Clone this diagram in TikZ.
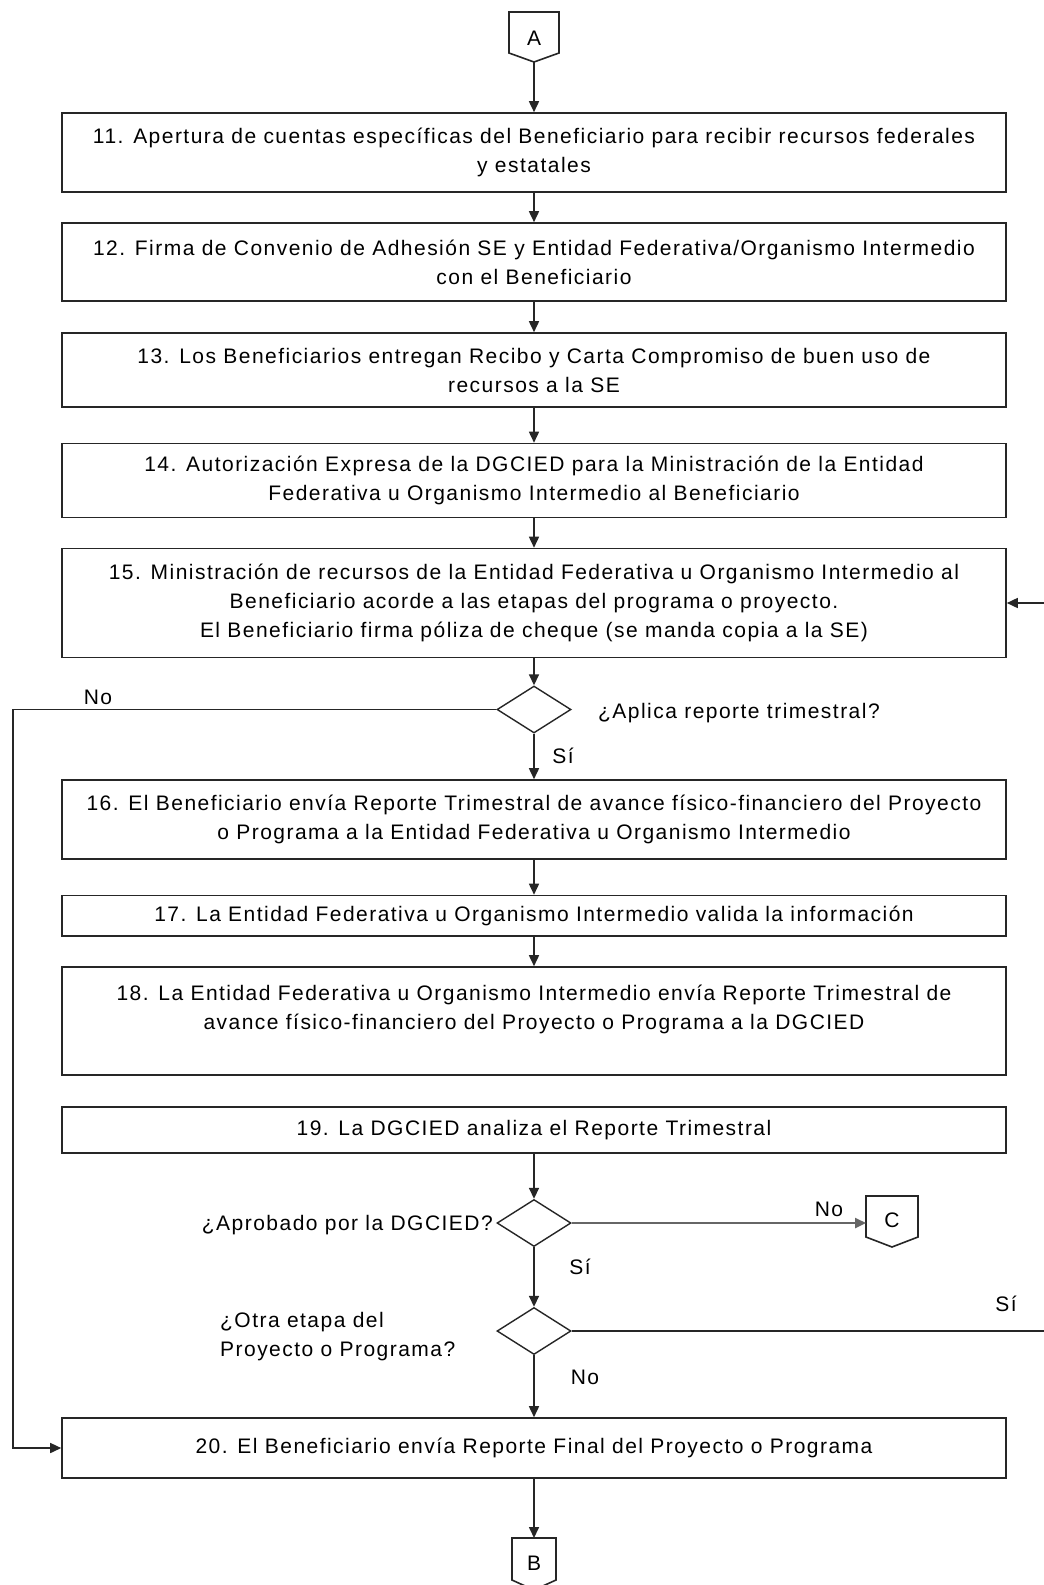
\documentclass[tikz,border=0pt]{standalone}
\usepackage{fontspec}
\setmainfont{Liberation Sans}[LetterSpace=7]
\usetikzlibrary{shapes.geometric,arrows.meta}
\begin{document}
\begin{tikzpicture}[x=1pt,y=-1pt,
  every node/.style={font=\fontsize{21}{29}\selectfont},
  box/.style={draw=black!85,line width=1.6pt,minimum width=944pt,align=center,inner sep=0pt,fill=white},
  dec/.style={draw=black!85,line width=1.4pt,shape=diamond,minimum width=74pt,minimum height=47pt,inner sep=0pt},
  conn/.style={draw=black!85,line width=1.6pt},
  arr/.style={line width=1.6pt,draw=black!85,-{Triangle[length=11pt,width=10pt]}},
  lbl/.style={inner sep=0pt}]
\useasboundingbox (0,0) rectangle (1044,1585);
\fill[white] (0,0) rectangle (1044,1585);
% connector A
\draw[conn] (509,12) -- (559,12) -- (559,53) -- (534,62) -- (509,53) -- cycle;
\node[lbl] (A) at (534,38) {A};
\coordinate (Abot) at (534,62);
% boxes
\node[box,minimum height=79pt] (b11) at (534,152.5) {11. Apertura de cuentas específicas del Beneficiario para recibir recursos federales\\y estatales};
\node[box,minimum height=78pt] (b12) at (534,262) {12. Firma de Convenio de Adhesión SE y Entidad Federativa/Organismo Intermedio\\con el Beneficiario};
\node[box,minimum height=74pt] (b13) at (534,370) {13. Los Beneficiarios entregan Recibo y Carta Compromiso de buen uso de\\recursos a la SE};
\node[box,minimum height=74pt] (b14) at (534,480.5) {14. Autorización Expresa de la DGCIED para la Ministración de la Entidad\\Federativa u Organismo Intermedio al Beneficiario};
\node[box,minimum height=109pt] (b15) at (534,603) {15. Ministración de recursos de la Entidad Federativa u Organismo Intermedio al\\Beneficiario acorde a las etapas del programa o proyecto.\\El Beneficiario firma póliza de cheque (se manda copia a la SE)};
\node[dec] (d1) at (534,709.5) {};
\node[box,minimum height=79pt] (b16) at (534,819.5) {16. El Beneficiario envía Reporte Trimestral de avance físico-financiero del Proyecto\\o Programa a la Entidad Federativa u Organismo Intermedio};
\node[box,minimum height=40.5pt] (b17) at (534,915.75) {17. La Entidad Federativa u Organismo Intermedio valida la información};
\node[box,minimum height=108pt] (b18) at (534,1021) {};
\node[lbl,align=center] (t18) at (534,1009) {18. La Entidad Federativa u Organismo Intermedio envía Reporte Trimestral de\\avance físico-financiero del Proyecto o Programa a la DGCIED};
\node[box,minimum height=46pt] (b19) at (534,1130) {19. La DGCIED analiza el Reporte Trimestral};
\node[dec] (d2) at (534,1223) {};
\node[dec] (d3) at (534,1331) {};
\node[box,minimum height=60pt] (b20) at (534,1448) {20. El Beneficiario envía Reporte Final del Proyecto o Programa};
% connector C
\draw[conn] (866,1196) -- (918,1196) -- (918,1237) -- (892,1247) -- (866,1237) -- cycle;
\node[lbl] (C) at (892,1220) {C};
\coordinate (Cw) at (866,1223);
% connector B
\draw[conn] (512,1538) -- (556,1538) -- (556,1580) -- (534,1590) -- (512,1580) -- cycle;
\node[lbl] (B) at (534,1563) {B};
\coordinate (Btop) at (534,1538);
% side coordinates
\coordinate (L1) at (13,709.5);
\coordinate (R1) at (1070,1331);
% main arrows
\draw[arr] (Abot) -- (b11);
\draw[arr] (b11) -- (b12);
\draw[arr] (b12) -- (b13);
\draw[arr] (b13) -- (b14);
\draw[arr] (b14) -- (b15);
\draw[arr] (b15) -- (d1);
\draw[arr] (d1) -- (b16);
\draw[arr] (b16) -- (b17);
\draw[arr] (b17) -- (b18);
\draw[arr] (b19) -- (d2);
\draw[arr] (d2) -- (d3);
\draw[arr] (d3) -- (b20);
\draw[arr] (b20.south) -- (Btop);
\draw[arr,draw=black!60,line width=2.4pt] (d2.east) -- (Cw);
\draw[arr] (d1.west) -- (L1) |- (b20.west);
\draw[arr] (d3.east) -- (R1) |- (b15.east);
% labels
\node[lbl] (lno1) at (98,697) {No};
\node[lbl,anchor=west] (q1) at (598,713) {¿Aplica reporte trimestral?};
\node[lbl] (lsi1) at (563,756) {Sí};
\node[lbl,anchor=east] (q2) at (493,1225) {¿Aprobado por la DGCIED?};
\node[lbl] (lno2) at (829,1209) {No};
\node[lbl] (lsi2) at (580,1267) {Sí};
\node[lbl,anchor=west,align=left] (q3) at (220,1337) {¿Otra etapa del\\Proyecto o Programa?};
\node[lbl] (lsi3) at (1006,1304) {Sí};
\node[lbl] (lno3) at (585,1377) {No};
\end{tikzpicture}
\end{document}
